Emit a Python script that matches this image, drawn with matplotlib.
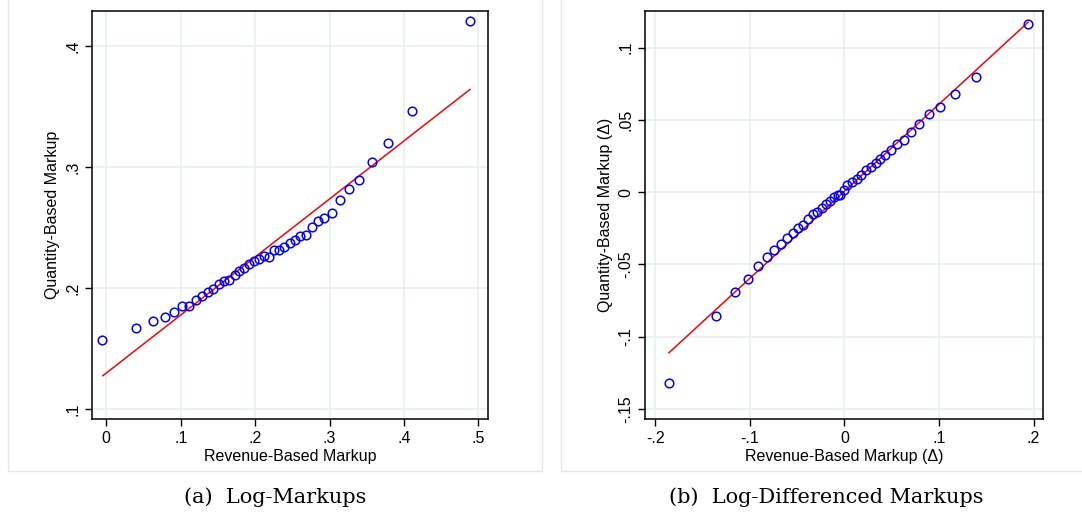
import matplotlib.pyplot as plt
from matplotlib.patches import Rectangle

plt.rcParams['font.family'] = ['Liberation Sans', 'DejaVu Sans']

# panel (a): log-markups, quantile points + reference line
rev_a = [-0.0054, 0.0403, 0.0623, 0.0784, 0.0910, 0.1017, 0.1116, 0.1205, 0.1286, 0.1362,
         0.1438, 0.1514, 0.1582, 0.1653, 0.1725, 0.1788, 0.1855, 0.1918, 0.1985, 0.2052,
         0.2119, 0.2191, 0.2258, 0.2325, 0.2392, 0.2464, 0.2536, 0.2608, 0.2684, 0.2764,
         0.2849, 0.2930, 0.3029, 0.3136, 0.3257, 0.3396, 0.3571, 0.3790, 0.4104, 0.4888]
qty_a = [0.1570, 0.1674, 0.1732, 0.1762, 0.1803, 0.1856, 0.1853, 0.1900, 0.1936, 0.1966,
         0.1996, 0.2035, 0.2060, 0.2068, 0.2109, 0.2142, 0.2164, 0.2203, 0.2225, 0.2238,
         0.2269, 0.2258, 0.2313, 0.2318, 0.2337, 0.2370, 0.2398, 0.2431, 0.2442, 0.2508,
         0.2558, 0.2580, 0.2624, 0.2728, 0.2819, 0.2891, 0.3039, 0.3202, 0.3463, 0.4204]
line_a_x = [-0.0045, 0.4888]
line_a_y = [0.1278, 0.3642]

# panel (b): log-differenced markups
rev_b = [-0.1854, -0.1360, -0.1156, -0.1019, -0.0909, -0.0818, -0.0740, -0.0670, -0.0603, -0.0543,
         -0.0486, -0.0433, -0.0381, -0.0331, -0.0285, -0.0240, -0.0194, -0.0148, -0.0106, -0.0067,
         -0.0046, -0.0007, 0.0032, 0.0081, 0.0134, 0.0180, 0.0229, 0.0278, 0.0331, 0.0381,
         0.0433, 0.0490, 0.0557, 0.0627, 0.0705, 0.0789, 0.0892, 0.1011, 0.1167, 0.1392, 0.1942]
qty_b = [-0.1318, -0.0859, -0.0694, -0.0599, -0.0509, -0.0449, -0.0399, -0.0362, -0.0320, -0.0283,
         -0.0247, -0.0228, -0.0189, -0.0152, -0.0138, -0.0113, -0.0085, -0.0062, -0.0035, -0.0018,
         -0.0021, 0.0018, 0.0048, 0.0071, 0.0088, 0.0120, 0.0150, 0.0177, 0.0203, 0.0226,
         0.0260, 0.0293, 0.0332, 0.0362, 0.0415, 0.0470, 0.0541, 0.0592, 0.0682, 0.0795, 0.1161]
line_b_x = [-0.1854, 0.1942]
line_b_y = [-0.1111, 0.1175]

xticks_a = [0, 0.1, 0.2, 0.3, 0.4, 0.5]
xlabels_a = ['0', '.1', '.2', '.3', '.4', '.5']
yticks_a = [0.1, 0.2, 0.3, 0.4]
ylabels_a = ['.1', '.2', '.3', '.4']
xticks_b = [-0.2, -0.1, 0, 0.1, 0.2]
xlabels_b = ['-.2', '-.1', '0', '.1', '.2']
yticks_b = [-0.15, -0.1, -0.05, 0, 0.05, 0.1]
ylabels_b = ['-.15', '-.1', '-.05', '0', '.05', '.1']

W, H = 1082, 514
fig = plt.figure(figsize=(W / 100, H / 100), dpi=100)

# light frames around each sub-figure
for x0, x1 in [(8, 542), (561, 1090)]:
    fig.patches.append(Rectangle((x0 / W, (H - 471) / H), (x1 - x0) / W, 475 / H,
                                 transform=fig.transFigure, fill=False,
                                 edgecolor='#e6e6e6', linewidth=1))


def panel(rect, x, y, lx, ly, xt, xl, yt, yl, xlim, ylim, xlab, ylab):
    ax = fig.add_axes(rect)
    ax.grid(True, color='#e8f0f2', linewidth=1.2)
    ax.set_axisbelow(True)
    ax.plot(lx, ly, color='red', linewidth=1.1, zorder=2)
    ax.plot(x, y, linestyle='none', marker='o', markersize=6.2, markerfacecolor='none',
            markeredgecolor='blue', markeredgewidth=1.1, zorder=3)
    ax.set_xlim(xlim)
    ax.set_ylim(ylim)
    ax.set_xticks(xt)
    ax.set_xticklabels(xl, fontsize=11.5)
    ax.set_yticks(yt)
    ax.set_yticklabels(yl, fontsize=11.5, rotation=90, va='center')
    ax.tick_params(direction='out', length=5, width=1, color='black')
    ax.set_xlabel(xlab, fontsize=11.5, labelpad=2)
    ax.set_ylabel(ylab, fontsize=11.5, labelpad=4)
    for s in ax.spines.values():
        s.set_linewidth(1.1)
    return ax


panel([92 / W, (H - 419) / H, 396 / W, 408 / H], rev_a, qty_a, line_a_x, line_a_y,
      xticks_a, xlabels_a, yticks_a, ylabels_a, (-0.0192, 0.513), (0.092, 0.429),
      'Revenue-Based Markup', 'Quantity-Based Markup')
panel([645 / W, (H - 419) / H, 398 / W, 408 / H], rev_b, qty_b, line_b_x, line_b_y,
      xticks_b, xlabels_b, yticks_b, ylabels_b, (-0.2107, 0.21), (-0.1569, 0.1253),
      'Revenue-Based Markup (Δ)', 'Quantity-Based Markup (Δ)')

fig.text(275 / W, 1 - 497 / H, '(a)  Log-Markups', ha='center', va='center',
         fontsize=15, family=['DejaVu Serif'])
fig.text(826 / W, 1 - 497 / H, '(b)  Log-Differenced Markups', ha='center', va='center',
         fontsize=15, family=['DejaVu Serif'])

fig.savefig('out.png', dpi=100)
